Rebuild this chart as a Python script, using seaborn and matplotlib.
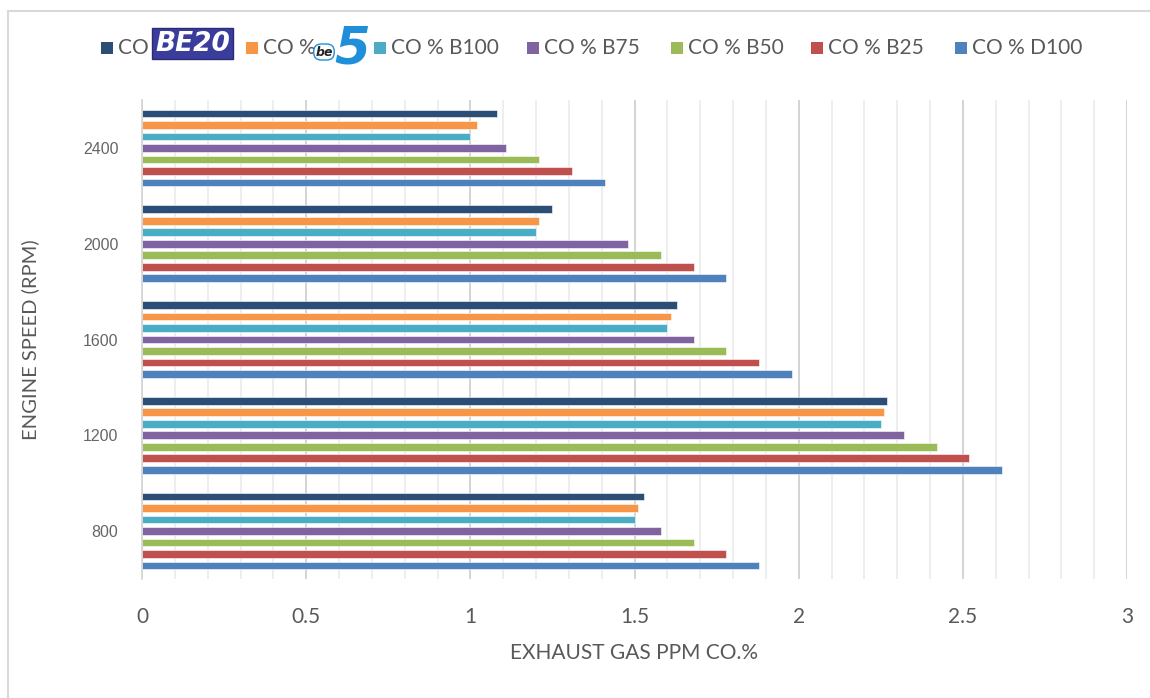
import matplotlib
matplotlib.use("Agg")
import matplotlib.pyplot as plt
import seaborn as sns
import pandas as pd
from matplotlib.patches import Rectangle
from matplotlib.ticker import MultipleLocator, FixedLocator, FuncFormatter

# Engine speeds (top to bottom) and fuel blends
speeds = ["2400", "2000", "1600", "1200", "800"]
series = ["CO BE20", "CO % be5", "CO % B100", "CO % B75", "CO % B50", "CO % B25", "CO % D100"]

# CO emission values per blend, one entry per engine speed
co_be20 = [1.08, 1.25, 1.63, 2.27, 1.53]
co_be5 = [1.02, 1.21, 1.61, 2.26, 1.51]
co_b100 = [1.00, 1.20, 1.60, 2.25, 1.50]
co_b75 = [1.11, 1.48, 1.68, 2.32, 1.58]
co_b50 = [1.21, 1.58, 1.78, 2.42, 1.68]
co_b25 = [1.31, 1.68, 1.88, 2.52, 1.78]
co_d100 = [1.41, 1.78, 1.98, 2.62, 1.88]

x_ticks = [0, 0.5, 1, 1.5, 2, 2.5, 3]

colors = ["#2C4D75", "#F79646", "#4BACC6", "#8064A2", "#9BBB59", "#C0504D", "#4F81BD"]

values = [co_be20, co_be5, co_b100, co_b75, co_b50, co_b25, co_d100]
df = pd.DataFrame(
    [(s, name, v) for name, vals in zip(series, values) for s, v in zip(speeds, vals)],
    columns=["speed", "fuel", "co"],
)

sns.set_style("white")
plt.rcParams["font.family"] = ["Lato", "DejaVu Sans"]

W, H = 1150, 698
fig = plt.figure(figsize=(W / 100, H / 100), dpi=100)


def fx(x):
    return x / W


def fy(y):
    return 1 - y / H


ax = fig.add_axes([fx(142), fy(579), (1127 - 142) / W, (579 - 100) / H])

sns.barplot(
    data=df, y="speed", x="co", hue="fuel", order=speeds, hue_order=series,
    palette=colors, saturation=1, orient="h", width=0.84, gap=0.33,
    edgecolor="white", linewidth=0.4, errorbar=None, legend=False, ax=ax,
)

text_grey = "#595959"
ax.set_xlim(0, 3)
ax.set_ylim(4.5, -0.5)
ax.xaxis.set_major_locator(FixedLocator(x_ticks))
ax.xaxis.set_minor_locator(MultipleLocator(0.1))
ax.xaxis.set_major_formatter(FuncFormatter(lambda v, p: f"{v:g}"))
ax.grid(False)
ax.grid(True, axis="x", which="minor", color="#EDEDED", lw=1.3)
ax.grid(True, axis="x", which="major", color="#D4D4D4", lw=1.4)
ax.set_axisbelow(True)

ax.tick_params(axis="x", which="both", length=0, labelsize=15, labelcolor=text_grey, pad=20)
ax.yaxis.set_minor_locator(FixedLocator([i - 0.5 for i in range(len(speeds) + 1)]))
ax.tick_params(axis="y", which="major", length=0, pad=17)
ax.tick_params(axis="y", which="minor", length=6, width=1.2, color="#D4D4D4", direction="out")
for lab in ax.get_yticklabels():
    lab.set_fontfamily(["Liberation Sans", "DejaVu Sans"])
    lab.set_fontsize(11.5)
    lab.set_color("#666666")

for side in ["top", "right", "bottom"]:
    ax.spines[side].set_visible(False)
ax.spines["left"].set_color("#D4D4D4")
ax.spines["left"].set_linewidth(1.2)

ax.set_xlabel("EXHAUST GAS PPM CO.%", fontsize=15, color=text_grey, labelpad=12)
ax.set_ylabel("")
fig.text(fx(30), fy(340), "ENGINE SPEED (RPM)", rotation=90, fontsize=14.5,
         color=text_grey, ha="center", va="center")

# Chart frame
fig.patches.append(Rectangle((fx(8), fy(H + 20)), 1.2, fy(11) - fy(H + 20),
                             transform=fig.transFigure, fill=False,
                             edgecolor="#D9D9D9", lw=1.5, clip_on=False))

# Legend row
leg_y = 48
sq = 12
square_x = [101, 246, 374, 527, 671, 811, 955]
label_text = ["CO", "CO %", "CO % B100", "CO % B75", "CO % B50", "CO % B25", "CO % D100"]
for x0, color, txt in zip(square_x, colors, label_text):
    fig.patches.append(Rectangle((fx(x0), fy(leg_y + sq / 2)), sq / W, sq / H,
                                 transform=fig.transFigure, facecolor=color,
                                 edgecolor="none"))
    fig.text(fx(x0 + sq + 5), fy(leg_y), txt, fontsize=15, color=text_grey,
             ha="left", va="center")

# BE20 badge
fig.patches.append(Rectangle((fx(152), fy(59)), 81 / W, 31 / H,
                             transform=fig.transFigure, facecolor="#3B3D9C",
                             edgecolor="#2A2B73", lw=1))
fig.text(fx(192.5), fy(44), "BE20", fontsize=19, color="white", fontweight="bold",
         fontstyle="italic", family=["DejaVu Sans"], ha="center", va="center")

# be5 badge: small "be" tag beside a large blue "5"
fig.text(fx(324), fy(52), "be", fontsize=9, color="#222222", fontweight="bold",
         fontstyle="italic", family=["DejaVu Sans"], ha="center", va="center",
         bbox=dict(boxstyle="round,pad=0.12,rounding_size=0.6", facecolor="white",
                   edgecolor="#1E8FD8", lw=1))
fig.text(fx(334), fy(63), "5", fontsize=37, color="#1E8FD8", fontweight="bold",
         fontstyle="italic", family=["DejaVu Sans"], ha="left", va="baseline")

fig.savefig("out.png", dpi=100)
